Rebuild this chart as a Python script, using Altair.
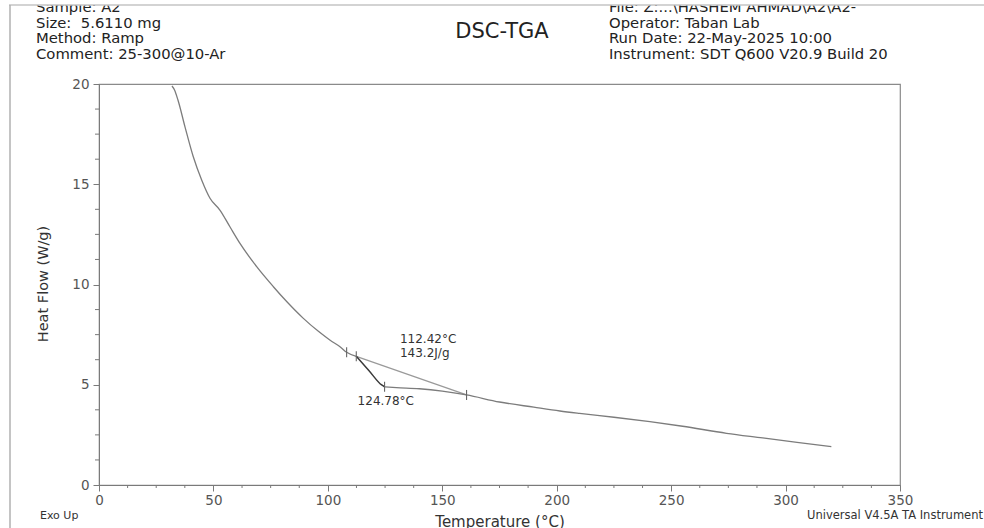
import altair as alt
import pandas as pd

# ---- DSC heat-flow curve (Temperature in °C, Heat Flow in W/g) ----
temp_main = [31.9, 33.0, 34.5, 37.6, 41.2, 44.9, 48.5, 52.9, 57.2, 61.6, 68.9,
             76.2, 82.0, 89.3, 96.0, 101.0, 105.3, 108.2, 112.42]
hf_main = [19.9, 19.7, 19.2, 17.85, 16.37, 15.2, 14.3, 13.7, 12.88, 12.05, 10.89,
           9.89, 9.15, 8.31, 7.65, 7.22, 6.90, 6.62, 6.42]

# endothermic peak section
temp_peak = [112.42, 118.0, 123.5, 124.78]
hf_peak = [6.42, 5.70, 4.99, 4.90]

# recovery and remainder of the run
temp_tail = [124.78, 130.0, 140.0, 150.0, 160.6, 175.0, 190.0, 201.4, 210.0,
             225.0, 240.7, 255.0, 274.2, 290.0, 305.0, 320.0]
hf_tail = [4.90, 4.86, 4.80, 4.68, 4.49, 4.14, 3.88, 3.69, 3.57,
           3.38, 3.16, 2.93, 2.58, 2.35, 2.13, 1.91]

# integration baseline and limit markers
baseline_temp = [112.42, 160.6]
baseline_hf = [6.42, 4.49]
marker_temp = [108.2, 112.42, 124.78, 160.6]
marker_hf = [6.62, 6.42, 4.90, 4.49]

# peak annotations
peak_temp = 112.42
peak_enthalpy = 143.2
peak_min_temp = 124.78

# axis ticks
x_major = [0, 50, 100, 150, 200, 250, 300, 350]
x_minor = [12.5, 25, 37.5, 62.5, 75, 87.5, 112.5, 125, 137.5, 162.5, 175, 187.5,
           212.5, 225, 237.5, 262.5, 275, 287.5, 312.5, 325, 337.5]
y_major = [0, 5, 10, 15, 20]
y_minor = [1.25, 2.5, 3.75, 6.25, 7.5, 8.75, 11.25, 12.5, 13.75, 16.25, 17.5, 18.75]

header_left = ["Sample: A2", "Size:\u00a0\u00a05.6110 mg", "Method: Ramp",
               "Comment: 25-300@10-Ar"]
header_right = ["File: Z:...\\HASHEM AHMAD\\A2\\A2-", "Operator: Taban Lab",
                "Run Date: 22-May-2025 10:00", "Instrument: SDT Q600 V20.9 Build 20"]

FONT = "DejaVu Sans"
AX = "#7a7a7a"

xscale = alt.Scale(domain=[0, 350], nice=False, zero=False)
yscale = alt.Scale(domain=[0, 20], nice=False, zero=False)
xaxis = alt.Axis(values=x_major, title=None, grid=False, tickSize=6, tickColor=AX,
                 domainColor=AX, labelColor="#555", labelFont=FONT, labelFontSize=13.5,
                 labelPadding=2, labelFlush=False)
yaxis = alt.Axis(values=y_major, title=None, grid=False, tickSize=6, tickColor=AX,
                 domainColor=AX, labelColor="#555", labelFont=FONT, labelFontSize=13.5,
                 labelPadding=4, labelFlush=False)


def X(f):
    return alt.X(f, type="quantitative", scale=xscale, axis=xaxis)


def Y(f):
    return alt.Y(f, type="quantitative", scale=yscale, axis=yaxis)


main_df = pd.DataFrame({"t": temp_main, "hf": hf_main})
peak_df = pd.DataFrame({"t": temp_peak, "hf": hf_peak})
tail_df = pd.DataFrame({"t": temp_tail, "hf": hf_tail})
base_df = pd.DataFrame({"t": baseline_temp, "hf": baseline_hf})
mark_df = pd.DataFrame({"t": marker_temp, "hf": marker_hf})

curve_main = alt.Chart(main_df).mark_line(
    color="#7c7c7c", strokeWidth=1.3, interpolate="monotone"
).encode(x=X("t"), y=Y("hf"), order="t:Q")
curve_peak = alt.Chart(peak_df).mark_line(
    color="#3a3a3a", strokeWidth=1.5, interpolate="monotone"
).encode(x=X("t"), y=Y("hf"), order="t:Q")
curve_tail = alt.Chart(tail_df).mark_line(
    color="#7c7c7c", strokeWidth=1.3, interpolate="monotone"
).encode(x=X("t"), y=Y("hf"), order="t:Q")
baseline = alt.Chart(base_df).mark_line(color="#9a9a9a", strokeWidth=1.3).encode(
    x=X("t"), y=Y("hf"))
markers = alt.Chart(mark_df).transform_calculate(
    lo="datum.hf - 0.25", hi="datum.hf + 0.25"
).mark_rule(color="#666", strokeWidth=1.1).encode(x=X("t"), y=Y("lo"), y2="hi:Q")

# annotations at the peak
ann_df = pd.DataFrame({
    "t": [131.5, 131.5, 113.0],
    "hf": [7.27, 6.6, 4.19],
    "label": [f"{peak_temp:.2f}°C", f"{peak_enthalpy:.1f}J/g", f"{peak_min_temp:.2f}°C"],
})
annotations = alt.Chart(ann_df).mark_text(
    align="left", baseline="middle", font=FONT, fontSize=12, color="#333"
).encode(x=X("t"), y=Y("hf"), text="label:N")

# minor axis ticks
xminor = alt.Chart(pd.DataFrame({"t": x_minor})).mark_rule(color=AX).encode(
    x=X("t"), y=alt.value(401), y2=alt.value(404))
yminor = alt.Chart(pd.DataFrame({"v": y_minor})).mark_rule(color=AX).encode(
    y=Y("v"), x=alt.value(-4), x2=alt.value(0))

one = pd.DataFrame({"k": [0]})


def label(text, x, y, size, align="left", baseline="middle", color="#222", **kw):
    return alt.Chart(one).mark_text(
        text=text, align=align, baseline=baseline, font=FONT, fontSize=size,
        color=color, **kw
    ).encode(x=alt.value(x), y=alt.value(y))


# header (positions relative to the plot's top-left corner at 99, 84)
left_head = label(header_left, -63, -84, 14.8, baseline="top", lineHeight=15.5)
right_head = label(header_right, 510, -84, 14.8, baseline="top", lineHeight=15.5)
title = label("DSC-TGA", 403, -52, 21, align="center")
page_mask = alt.Chart(one).mark_rect(color="white").encode(
    x=alt.value(-99), x2=alt.value(885), y=alt.value(-84), y2=alt.value(-79))
page_top = alt.Chart(one).mark_rule(color="#c4c4c4", strokeWidth=1.5).encode(
    x=alt.value(-90), x2=alt.value(885), y=alt.value(-79))
page_left = alt.Chart(one).mark_rule(color="#b0b0b0", strokeWidth=1.5).encode(
    x=alt.value(-89), y=alt.value(-79), y2=alt.value(444))

ytitle = label("Heat Flow (W/g)", -55, 200, 14.5, align="center", angle=270,
               color="#333")
xtitle = label("Temperature (°C)", 401, 431, 15, align="center", baseline="top",
               color="#333")
exo = label("Exo Up", -59, 432, 11, color="#333")
footer = label("Universal V4.5A TA Instrument", 884, 432, 11.5, align="right",
               color="#333")

chart = alt.layer(
    xminor, yminor, baseline, curve_main, curve_tail, curve_peak, markers,
    annotations, left_head, right_head, page_mask, page_top, page_left, title,
    ytitle, xtitle, exo, footer,
).properties(
    width=801, height=401,
    padding={"left": 99, "top": 84, "right": 84, "bottom": 43},
    autosize="none",
    background="white",
).configure_view(stroke="#8a8a8a", strokeWidth=1.2)

chart.save("out.html", embed_options={"renderer": "svg", "actions": False})
